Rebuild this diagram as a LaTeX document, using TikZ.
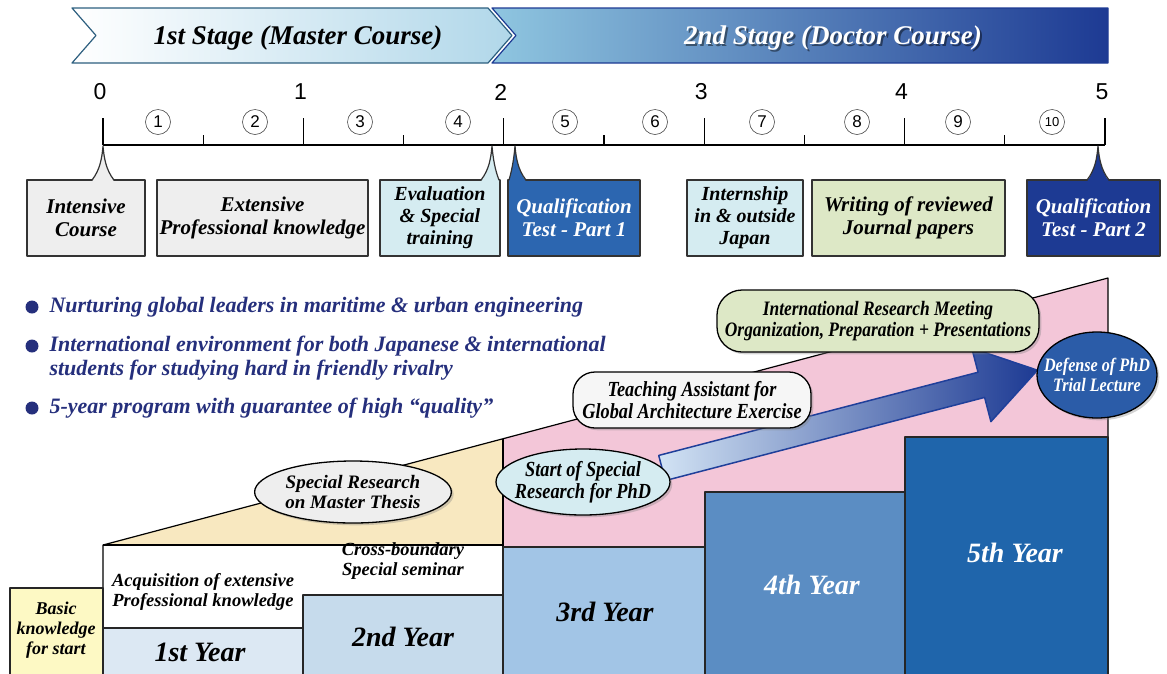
\documentclass[tikz,border=0pt]{standalone}
\usepackage{fontspec}
\setmainfont{Liberation Serif}
\newfontfamily\numfont{Liberation Sans}
\newfontfamily\condfont{Liberation Serif Bold Italic}[FakeStretch=0.85]
\usetikzlibrary{shapes.geometric,shadows,calc}
\definecolor{boxgray}{HTML}{EEEEEE}
\definecolor{boxcyan}{HTML}{D5ECF1}
\definecolor{boxgreen}{HTML}{DDE8C6}
\definecolor{boxblue}{HTML}{2C66B0}
\definecolor{boxnavy}{HTML}{1D3A93}
\definecolor{bulletc}{HTML}{252F7C}
\definecolor{beige}{HTML}{F8E8C0}
\definecolor{pinkc}{HTML}{F3C6D8}
\definecolor{basicc}{HTML}{FDF9C4}
\definecolor{yrA}{HTML}{DCE8F3}
\definecolor{yrB}{HTML}{C6DBEC}
\definecolor{yrC}{HTML}{A2C5E6}
\definecolor{yrD}{HTML}{5B8DC3}
\definecolor{yrE}{HTML}{1F65AB}
\definecolor{defc}{HTML}{2B5CA8}
\definecolor{stageline}{HTML}{2D5F7F}
\definecolor{stagelight}{HTML}{8FC6E0}
\definecolor{arrowlight}{HTML}{D2E3F4}
\definecolor{arrowline}{HTML}{1F3F9A}
\tikzset{
 bi/.style={font=\fontsize{#1}{\dimexpr #1pt*11/10\relax}\selectfont\bfseries\itshape},
 cbi/.style={font=\condfont\fontsize{#1}{\dimexpr #1pt*21/20\relax}\selectfont},
 tlbox/.style={draw=black!80, line width=1.2pt, align=center, bi=21, inner sep=2pt, minimum height=76pt},
 yrbox/.style={draw=black!85, line width=1.2pt},
 bubble/.style={draw=black, line width=1.3pt, align=center, inner sep=2pt, drop shadow={opacity=.35}},
 circnum/.style={circle, draw=black!70, line width=.6pt, inner sep=0pt, minimum size=25pt}
}
\begin{document}
\begin{tikzpicture}[x=1pt,y=-1pt,line join=round]
 \useasboundingbox (0,0) rectangle (1167,673);
 \shade[left color=stagelight, right color=boxnavy, draw=boxnavy, line width=1.2pt]
 (492,8)--(1108,8)--(1108,63)--(492,63)--(516,35.5)--cycle;
 \shade[left color=white, right color=stagelight!70, draw=stageline, line width=1.2pt]
 (72,8)--(488,8)--(512,35.5)--(488,63)--(72,63)--(96,35.5)--cycle;
 \node[bi=27] (stageA) at (298,38) {1st Stage (Master Course)};
 \node[bi=27, text=black, opacity=.45] at (835,40) {2nd Stage (Doctor Course)};
 \node[bi=27, text=white] (stageB) at (833,38) {2nd Stage (Doctor Course)};
 \draw[line width=1.2pt] (103,145)--(1105,145);
 \foreach \i in {0,...,5}{
 \draw[line width=1.2pt] ({103+200.4*\i},145)--++(0,-27);
 \node[font=\numfont\fontsize{23}{23}\selectfont] (n\i) at ({100+200.4*\i},92) {\i};}
 \foreach \i in {0,...,4}
 \draw[line width=1.2pt] ({203.2+200.4*\i},145)--++(0,-10);
 \foreach \x/\s [count=\n] in {158/17,255/17,360/17,458/17,565/17,655/17,762/17,857/17,958/17,1052/13}
 \node[circnum, font=\numfont\fontsize{\s}{\s}\selectfont] (c\n) at (\x,122) {\n};
 \node[tlbox, fill=boxgray, minimum width=118pt] (intensive) at (86,218) {Intensive\\Course};
 \node[tlbox, fill=boxgray, minimum width=211pt] (extensive) at (262.5,218) {Extensive\\Professional knowledge};
 \node[tlbox, bi=20, fill=boxcyan, minimum width=120pt] (evaluation) at (440,218) {Evaluation\\\& Special\\training};
 \node[tlbox, fill=boxblue, text=white, minimum width=132pt] (qualA) at (574,218) {Qualification\\Test - Part 1};
 \node[tlbox, bi=20, fill=boxcyan, minimum width=116pt] (internship) at (745,218) {Internship\\in \& outside\\Japan};
 \node[tlbox, fill=boxgreen, minimum width=193pt] (writing) at (908.5,218) {Writing of reviewed\\Journal papers};
 \node[tlbox, fill=boxnavy, text=white, minimum width=133pt] (qualB) at (1093.5,218) {Qualification\\Test - Part 2};
 \foreach \tx/\a/\b/\c in {103/92/114/boxgray,492/481/499/boxcyan,515/509/526/boxblue,1098/1087/1109/boxnavy}{
 \fill[\c] (\a,181.5) .. controls ({\tx-3},170) and ({\tx-1},158) .. (\tx,146) .. controls ({\tx+1},158) and ({\tx+3},170) .. (\b,181.5)--cycle;
 \draw[black!80, line width=1.2pt] (\a,180) .. controls ({\tx-3},170) and ({\tx-1},158) .. (\tx,146) .. controls ({\tx+1},158) and ({\tx+3},170) .. (\b,180);}
 \foreach \y in {307,346,408}
 \fill[bulletc] (32,\y) circle (6.5pt);
 \node[bi=22, text=bulletc, anchor=west] (bulA) at (46,307) {Nurturing global leaders in maritime \& urban engineering};
 \node[bi=22, text=bulletc, anchor=west, align=left] (bulB) at (46,358) {International environment for both Japanese \& international\\students for studying hard in friendly rivalry};
 \node[bi=22, text=bulletc, anchor=west] (bulC) at (46,408) {5-year program with guarantee of high ``quality''};
 \fill[beige] (103,545)--(503,438.7)--(503,545)--cycle;
 \fill[pinkc] (503,438.7)--(1108,278)--(1108,437)--(905,437)--(905,492)--(705,492)--(705,547)--(503,547)--cycle;
 \draw[line width=1.2pt] (103,588)--(103,545)--(1108,278)--(1108,437);
 \draw[line width=1.2pt] (103,545)--(503,545) (503,438.7)--(503,547);
 \draw[yrbox, fill=basicc] (10,588) rectangle (103,675);
 \draw[yrbox, fill=yrA] (103,628) rectangle (303,675);
 \draw[yrbox, fill=yrB] (303,595) rectangle (503,675);
 \draw[yrbox, fill=yrC] (503,547) rectangle (705,675);
 \draw[yrbox, fill=yrD] (705,492) rectangle (905,675);
 \draw[yrbox, fill=yrE] (905,437) rectangle (1108,675);
 \node[bi=18, align=center] (basic) at (56,630) {Basic\\knowledge\\for start};
 \node[bi=18.5, align=center] (acq) at (203,592) {Acquisition of extensive\\Professional knowledge};
 \node[bi=18.5, align=center] (cross) at (403,561) {Cross-boundary\\Special seminar};
 \node[bi=28] (yA) at (200,652) {1st Year};
 \node[bi=28] (yB) at (403,637) {2nd Year};
 \node[bi=28] (yC) at (605,612) {3rd Year};
 \node[bi=28, text=white] (yD) at (812,585) {4th Year};
 \node[bi=28, text=white] (yE) at (1015,553) {5th Year};
 \begin{scope}[shift={(662,468)}, rotate=14.6]
 \shade[left color=arrowlight, right color=boxnavy, draw=arrowline, line width=1.5pt]
 (0,-13)--(330,-13)--(330,-38)--(388,0)--(330,38)--(330,13)--(0,13)--cycle;
 \end{scope}
 \node[bubble, bi=19, ellipse, fill=boxgray, minimum width=195pt, minimum height=62pt] (thesis) at (353,492) {Special Research\\on Master Thesis};
 \node[bubble, ellipse, fill=boxcyan, minimum width=174pt, minimum height=66pt] (phd) at (583,482) {};
 \node[cbi=21.5, align=center] (phdtext) at (phd.center) {Start of Special\\Research for PhD};
 \node[bubble, cbi=21.5, rounded corners=22pt, fill=boxgray!50, minimum width=238pt, minimum height=56pt] (ta) at (692,400) {Teaching Assistant for\\Global Architecture Exercise};
 \node[bubble, cbi=20.5, rounded corners=25pt, fill=boxgreen, minimum width=322pt, minimum height=62pt] (meeting) at (878,321) {International Research Meeting\\Organization, Preparation + Presentations};
 \node[bubble, ellipse, fill=defc, minimum width=120pt, minimum height=86pt] (defense) at (1097,375) {};
 \node[cbi=19, align=center, text=white] (deftext) at (defense.center) {Defense of PhD\\Trial Lecture};
\end{tikzpicture}
\end{document}
